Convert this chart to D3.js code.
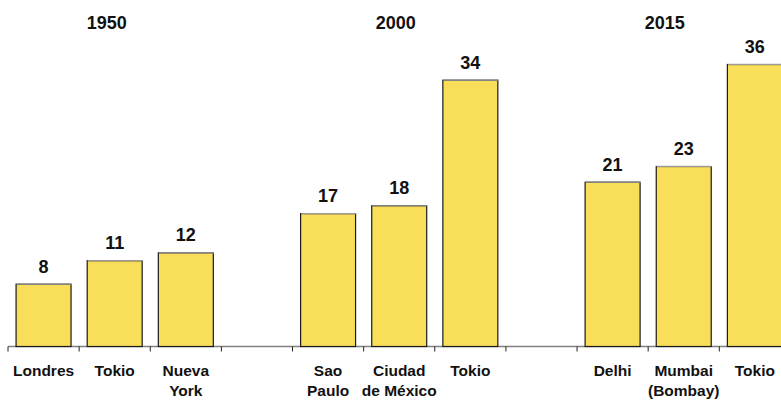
<!DOCTYPE html>
<html>
<head>
<meta charset="utf-8">
<script src="https://cdn.jsdelivr.net/npm/d3@7"></script>
<style>
  html, body { margin: 0; padding: 0; background: #fff; }
  svg { display: block; }
  text { font-family: "Liberation Sans", Arial, sans-serif; font-weight: bold; fill: #111; }
</style>
</head>
<body>
<svg id="chart" width="781" height="401"></svg>
<script>
// ---- data ----
const years = ["1950", "2000", "2015"];
const cities1950 = ["Londres", "Tokio", "Nueva\nYork"];
const cities2000 = ["Sao\nPaulo", "Ciudad\nde México", "Tokio"];
const cities2015 = ["Delhi", "Mumbai\n(Bombay)", "Tokio"];
const values1950 = [8, 11, 12];
const values2000 = [17, 18, 34];
const values2015 = [21, 23, 36];

// ---- layout ----
const W = 781, H = 401;
const baseY = 346.5, topY = 64;
const groups = [
  { year: years[0], cities: cities1950, values: values1950 },
  { year: years[1], cities: cities2000, values: values2000 },
  { year: years[2], cities: cities2015, values: values2015 }
];
const titleOffsets = [-8, -3.5, -19];

// build slots: three bars per group, one empty slot between groups
const slots = [];
groups.forEach((g, gi) => {
  g.cities.forEach((c, ci) => slots.push({ city: c, value: g.values[ci], group: gi, idx: ci }));
  if (gi < groups.length - 1) slots.push(null);
});
const nSlots = slots.length;

const pad = 0.213;
const x = d3.scaleBand()
  .domain(d3.range(nSlots))
  .range([8, 8 + 71.13 * nSlots])
  .paddingInner(pad)
  .paddingOuter(pad / 2);

const y = d3.scaleLinear().domain([0, 36]).range([baseY, topY]);

const svg = d3.select("#chart");
const step = x.step();
const edge = i => x(i) - x.paddingInner() * step / 2;

// axis line
svg.append("line")
  .attr("x1", edge(0)).attr("x2", W)
  .attr("y1", baseY).attr("y2", baseY)
  .attr("stroke", "#808080").attr("stroke-width", 1.6);

// ticks at slot boundaries
svg.selectAll("line.tick")
  .data(d3.range(nSlots + 1))
  .join("line")
  .attr("class", "tick")
  .attr("x1", i => i < nSlots ? edge(i) : edge(nSlots - 1) + step)
  .attr("x2", i => i < nSlots ? edge(i) : edge(nSlots - 1) + step)
  .attr("y1", baseY).attr("y2", baseY + 5)
  .attr("stroke", "#222").attr("stroke-width", 1);

const bars = slots.map((s, i) => s ? Object.assign({ i }, s) : null).filter(Boolean);

// bars
svg.selectAll("rect.bar")
  .data(bars)
  .join("rect")
  .attr("class", "bar")
  .attr("x", d => x(d.i) + 0.5)
  .attr("y", d => y(d.value) + 0.5)
  .attr("width", x.bandwidth() - 1)
  .attr("height", d => baseY - y(d.value) - 0.5)
  .attr("fill", "#F9DE59")
  .attr("stroke", "#1a1a1a")
  .attr("stroke-width", 1.2);

// lighter top edge
svg.selectAll("line.top")
  .data(bars)
  .join("line")
  .attr("class", "top")
  .attr("x1", d => x(d.i) + 1)
  .attr("x2", d => x(d.i) + x.bandwidth())
  .attr("y1", d => y(d.value) + 0.5)
  .attr("y2", d => y(d.value) + 0.5)
  .attr("stroke", "#9a9a9a").attr("stroke-width", 1.2);

// value labels
svg.selectAll("text.val")
  .data(bars)
  .join("text")
  .attr("class", "val")
  .attr("x", d => x(d.i) + x.bandwidth() / 2)
  .attr("y", d => y(d.value) - 11)
  .attr("text-anchor", "middle")
  .style("font-size", "18px")
  .text(d => d.value);

// category labels
const cat = svg.selectAll("text.cat")
  .data(bars)
  .join("text")
  .attr("class", "cat")
  .attr("text-anchor", "middle")
  .style("font-size", "15.5px");
cat.each(function (d) {
  const t = d3.select(this);
  d.city.split("\n").forEach((line, li) => {
    t.append("tspan")
      .attr("x", x(d.i) + x.bandwidth() / 2)
      .attr("y", 376 + li * 19.5)
      .text(line);
  });
});

// year titles
svg.selectAll("text.year")
  .data(groups)
  .join("text")
  .attr("class", "year")
  .attr("x", (g, gi) => {
    const mid = bars.find(b => b.group === gi && b.idx === 1);
    return x(mid.i) + x.bandwidth() / 2 + titleOffsets[gi];
  })
  .attr("y", 28.5)
  .attr("text-anchor", "middle")
  .style("font-size", "18px")
  .text(g => g.year);
</script>
</body>
</html>
